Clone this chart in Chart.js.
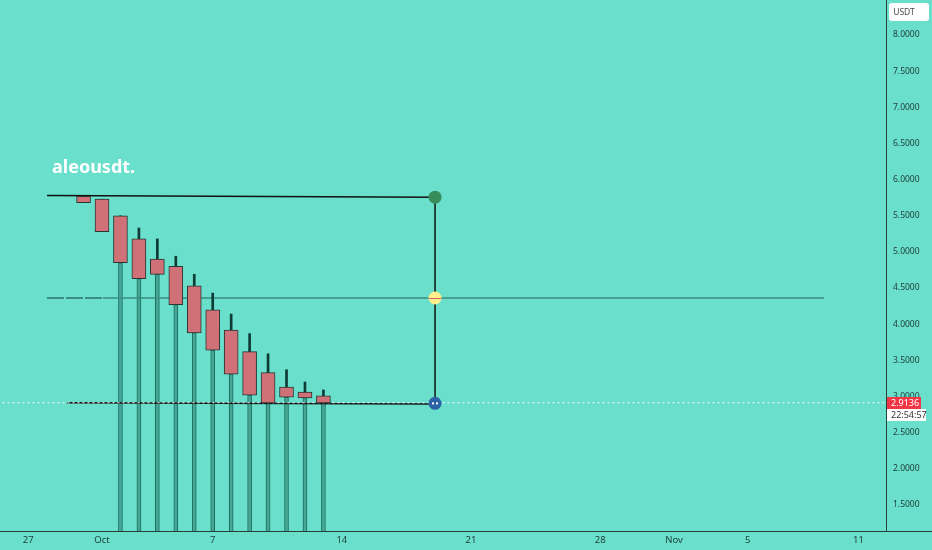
<!DOCTYPE html>
<html>
<head>
<meta charset="utf-8">
<script src="https://cdn.jsdelivr.net/npm/chart.js@4.4.1/dist/chart.umd.min.js"></script>
<style>
html, body { margin: 0; padding: 0; background: #69dfcc; }
#wrap { width: 932px; height: 550px; }
</style>
</head>
<body>
<div id="wrap"><canvas id="c" width="932" height="550"></canvas></div>
<script>
// day numbers counted from Oct 1 (= 0)
const days   = [-1, 0, 1, 2, 3, 4, 5, 6, 7, 8, 9, 10, 11, 12];
const opens  = [5.77, 5.73, 5.50, 5.18, 4.90, 4.80, 4.53, 4.20, 3.92, 3.62, 3.33, 3.13, 3.06, 3.01];
const closes = [5.68, 5.28, 4.85, 4.63, 4.69, 4.27, 3.88, 3.64, 3.31, 3.02, 2.91, 2.99, 2.98, 2.91];
const highs  = [5.77, 5.73, 5.50, 5.33, 5.18, 4.94, 4.69, 4.43, 4.14, 3.87, 3.59, 3.37, 3.20, 3.09];
const tailStart = 2; // long lower lines begin at the Oct 2 candle

const xTickDays   = [-4, 0, 6, 13, 20, 27, 31, 35, 41];
const xTickLabels = ["27", "Oct", "7", "14", "21", "28", "Nov", "5", "11"];
const yTickValues = [1.5, 2, 2.5, 3, 3.5, 4, 4.5, 5, 5.5, 6, 6.5, 7, 7.5, 8];

const lastPrice = 2.9136;
const lastTime = "22:54:57";
const topLine = [[-2.98, 5.781], [18.05, 5.757]];
const midDashed = [[-2.98, 4.362], [0.05, 4.362]];
const midLine = [[0.05, 4.362], [39.13, 4.362]];
const lowLine = [[-1.9, 2.914], [18.05, 2.897]];
const pointDay = 18.05;
const pointLevels = [5.757, 4.362, 2.905];

const bg = "#69dfcc";

const bodyData = days.map((d, i) => ({ x: d, y: [opens[i], closes[i]] }));
const wickData = days.map((d, i) => ({ x: d, y: [Math.max(opens[i], closes[i]), highs[i]] }));
const tailData = days.slice(tailStart).map((d, k) => {
  const i = k + tailStart;
  return { x: d, y: [0.5, Math.min(opens[i], closes[i])] };
});

const toPts = arr => arr.map(p => ({ x: p[0], y: p[1] }));

// background, labels and small marks
const extras = {
  id: "extras",
  beforeDraw(chart) {
    const ctx = chart.ctx;
    ctx.save();
    ctx.fillStyle = bg;
    ctx.fillRect(0, 0, chart.width, chart.height);
    ctx.restore();
  },
  afterDraw(chart) {
    const ctx = chart.ctx;
    const x = chart.scales.x, y = chart.scales.y;
    const area = chart.chartArea;
    ctx.save();

    // bottom rule across the whole width
    ctx.strokeStyle = "#24403b";
    ctx.lineWidth = 1;
    ctx.beginPath();
    ctx.moveTo(0, area.bottom + 0.5);
    ctx.lineTo(chart.width, area.bottom + 0.5);
    ctx.stroke();

    // yellow point: red stroke through it
    const px = x.getPixelForValue(pointDay);
    const ym = y.getPixelForValue(pointLevels[1]);
    ctx.strokeStyle = "#d0606a";
    ctx.beginPath();
    ctx.moveTo(px - 6, ym + 0.5);
    ctx.lineTo(px + 6, ym + 0.5);
    ctx.stroke();

    // blue point: two white dots
    const yb = y.getPixelForValue(pointLevels[2]);
    ctx.fillStyle = "#ffffff";
    ctx.fillRect(px - 3, yb - 1, 2, 2);
    ctx.fillRect(px + 1, yb - 1, 2, 2);

    // title
    ctx.fillStyle = "#ffffff";
    ctx.font = "bold 18px 'Noto Sans'";
    ctx.textBaseline = "alphabetic";
    ctx.textAlign = "left";
    ctx.fillText("aleousdt.", 52, 173);

    // currency box
    ctx.fillStyle = "#ffffff";
    ctx.beginPath();
    ctx.roundRect(889, 3, 40, 18, 3);
    ctx.fill();
    ctx.fillStyle = "#4a4a4a";
    ctx.font = "8.5px 'Noto Sans'";
    ctx.textAlign = "center";
    ctx.textBaseline = "middle";
    ctx.fillText("USDT", 904, 12.5);

    // last price label
    const yl = Math.round(y.getPixelForValue(lastPrice));
    ctx.fillStyle = "#f23645";
    ctx.fillRect(887, yl - 6, 34, 12);
    ctx.fillStyle = "#ffffff";
    ctx.fillRect(887, yl + 6, 39, 12);
    ctx.font = "9px 'Noto Sans'";
    ctx.textAlign = "left";
    ctx.fillStyle = "#ffffff";
    ctx.fillText(lastPrice.toFixed(4), 891, yl);
    ctx.fillStyle = "#333333";
    ctx.fillText(lastTime, 891, yl + 12);

    ctx.restore();
  }
};

new Chart(document.getElementById("c"), {
  type: "bar",
  data: {
    datasets: [
      {
        type: "scatter",
        data: pointLevels.map(v => ({ x: pointDay, y: v })),
        pointRadius: 6.5,
        pointHoverRadius: 6.5,
        pointBorderWidth: 0,
        pointBackgroundColor: ["#388e5a", "#fff08c", "#2b63a6"],
        order: 0
      },
      {
        data: bodyData,
        backgroundColor: "#cf7177",
        borderColor: "#2b3633",
        borderWidth: 1,
        borderSkipped: false,
        barThickness: 14,
        order: 1
      },
      {
        data: wickData,
        backgroundColor: "#0e3b33",
        barThickness: 2,
        order: 2
      },
      {
        type: "line",
        data: [{ x: -10, y: lastPrice }, { x: 50, y: lastPrice }],
        borderColor: "#ffffff",
        borderWidth: 1,
        borderDash: [2, 3],
        pointRadius: 0,
        order: 3
      },
      {
        type: "line",
        data: toPts(lowLine),
        borderColor: "#111111",
        borderWidth: 1.5,
        pointRadius: 0,
        order: 4
      },
      {
        type: "line",
        data: toPts(topLine),
        borderColor: "#111111",
        borderWidth: 1.5,
        pointRadius: 0,
        order: 4
      },
      {
        type: "line",
        data: [{ x: pointDay, y: pointLevels[0] }, { x: pointDay, y: pointLevels[2] }],
        borderColor: "#111111",
        borderWidth: 1.5,
        pointRadius: 0,
        order: 4
      },
      {
        type: "line",
        data: toPts(midDashed),
        borderColor: "#3b8d80",
        borderWidth: 2,
        borderDash: [17, 2],
        pointRadius: 0,
        order: 5
      },
      {
        type: "line",
        data: toPts(midLine),
        borderColor: "#3b8d80",
        borderWidth: 1.5,
        pointRadius: 0,
        order: 5
      },
      {
        data: tailData,
        backgroundColor: "#45a896",
        borderColor: "#1f6b5e",
        borderWidth: 1,
        borderSkipped: false,
        barThickness: 4,
        order: 6
      }
    ]
  },
  options: {
    responsive: false,
    animation: false,
    devicePixelRatio: 1,
    layout: { padding: 0, autoPadding: false },
    plugins: { legend: { display: false }, tooltip: { enabled: false } },
    datasets: { bar: { grouped: false } },
    scales: {
      x: {
        type: "linear",
        position: "bottom",
        min: -5.528,
        max: 42.49,
        offset: false,
        grid: { display: false, drawTicks: false },
        border: { display: true, color: "#24403b" },
        afterBuildTicks: s => { s.ticks = xTickDays.map(v => ({ value: v })); },
        afterFit: s => { s.height = 19; s.paddingLeft = 0; s.paddingRight = 0; },
        ticks: {
          autoSkip: false,
          maxRotation: 0,
          padding: 4,
          color: "#1f3c37",
          font: { family: "'Noto Sans'", size: 9.5 },
          callback: v => xTickLabels[xTickDays.indexOf(v)]
        }
      },
      y: {
        type: "linear",
        position: "right",
        min: 1.1397,
        max: 8.484,
        grid: { display: false, drawTicks: false },
        border: { display: true, color: "#24403b" },
        afterBuildTicks: s => { s.ticks = yTickValues.map(v => ({ value: v })); },
        afterFit: s => { s.width = 46; s.paddingTop = 0; s.paddingBottom = 0; },
        ticks: {
          padding: 7,
          color: "#1f3c37",
          font: { family: "'Noto Sans'", size: 8.5 },
          callback: v => Number(v).toFixed(4)
        }
      }
    }
  },
  plugins: [extras]
});
</script>
</body>
</html>
